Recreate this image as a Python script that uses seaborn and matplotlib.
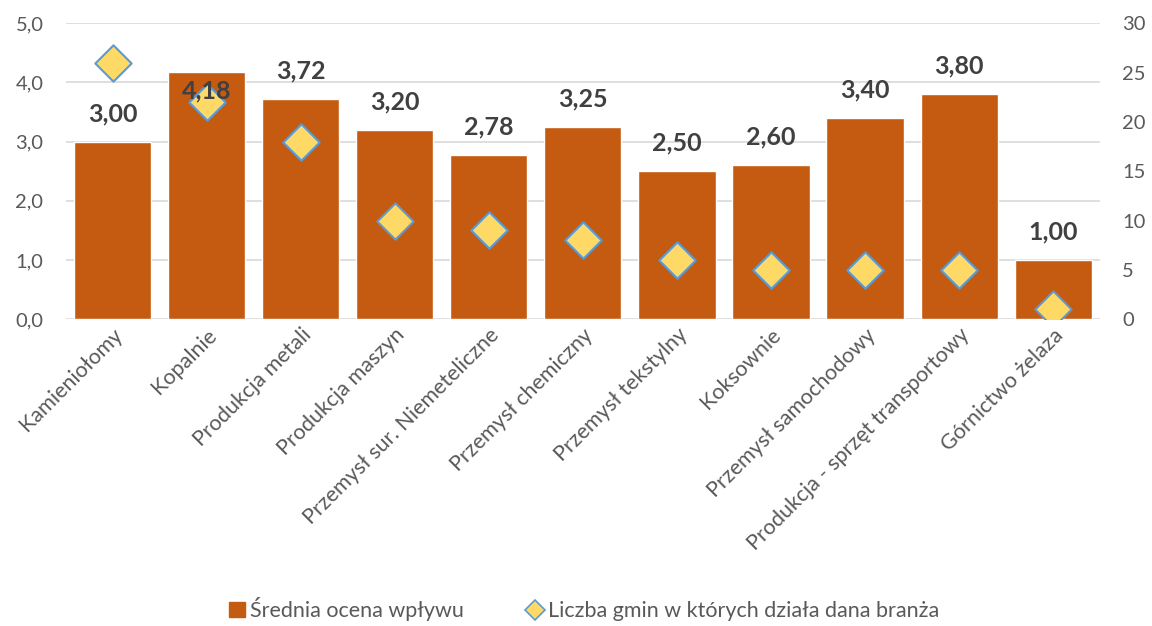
import numpy as np
import pandas as pd
import seaborn as sns
import matplotlib.pyplot as plt
from matplotlib.lines import Line2D
from matplotlib.patches import Patch

categories = ["Kamieniołomy", "Kopalnie", "Produkcja metali", "Produkcja maszyn",
              "Przemysł sur. Niemeteliczne", "Przemysł chemiczny", "Przemysł tekstylny",
              "Koksownie", "Przemysł samochodowy", "Produkcja - sprzęt transportowy",
              "Górnictwo żelaza"]
avg_score = [3.00, 4.18, 3.72, 3.20, 2.78, 3.25, 2.50, 2.60, 3.40, 3.80, 1.00]
n_gminas = [26, 22, 18, 10, 9, 8, 6, 5, 5, 5, 1]

bar_label = "Średnia ocena wpływu"
dot_label = "Liczba gmin w których działa dana branża"

sns.set_style("white")
plt.rcParams['font.family'] = ['Lato', 'DejaVu Sans']

BAR = "#C55A11"
TXT = "#595959"

df = pd.DataFrame({"cat": categories, "score": avg_score, "n": n_gminas})

fig = plt.figure(figsize=(11.52, 6.26), dpi=100)
ax = fig.add_axes([0.057, 0.49, 0.898, 0.473])

sns.barplot(data=df, x="cat", y="score", color=BAR, saturation=1, width=0.82, ax=ax, zorder=2)
ax.set_ylim(0, 5)
ax.set_yticks(np.arange(0, 5.01, 1))
ax.set_yticklabels([f"{v:.1f}".replace(".", ",") for v in np.arange(0, 5.01, 1)])
ax.yaxis.grid(True, color="#D9D9D9", linewidth=1.2, zorder=0)
ax.set_axisbelow(True)
ax.set_xlabel("")
ax.set_ylabel("")
for s in ax.spines.values():
    s.set_visible(False)
ax.tick_params(axis="y", length=0, labelsize=14.5, labelcolor=TXT, pad=16)
ax.tick_params(axis="x", length=0, labelsize=15.5, labelcolor=TXT, pad=4)
ax.set_xticks(range(len(categories)))
ax.set_xticklabels(categories, rotation=45, ha="right", rotation_mode="anchor")

ax2 = ax.twinx()
sns.stripplot(data=df, x="cat", y="n", jitter=False, marker="D", size=18.5,
              color="#FFD966", edgecolor="#5B9BD5", linewidth=1.5, ax=ax2, zorder=3)
ax2.set_ylim(0, 30)
ax2.set_yticks(range(0, 31, 5))
ax2.set_ylabel("")
for s in ax2.spines.values():
    s.set_visible(False)
ax2.tick_params(axis="y", length=0, labelsize=14.5, labelcolor=TXT, pad=16)
ax.set_xlim(-0.5, len(categories) - 0.5)

# value labels drawn on top of the diamonds; the tallest one sits inside the bar
for i, v in enumerate(avg_score):
    dy = 12 if v < 4 else -22
    ax2.annotate(f"{v:.2f}".replace(".", ","), (i, v), xycoords=ax.transData,
                 xytext=(0, dy), textcoords="offset points",
                 ha="center", va="bottom", fontsize=18, fontweight="bold",
                 color="#404040", zorder=5)

handles = [Patch(facecolor=BAR, edgecolor=BAR),
           Line2D([], [], marker="D", linestyle="", markersize=10, markerfacecolor="#FFD966",
                  markeredgecolor="#5B9BD5", markeredgewidth=1.2)]
fig.legend(handles, [bar_label, dot_label], loc="center", bbox_to_anchor=(0.507, 0.027), ncol=2,
           frameon=False, fontsize=15.5, labelcolor=TXT, handlelength=0.75, handletextpad=0.25,
           columnspacing=2.9)

fig.savefig("out.png", dpi=100)
